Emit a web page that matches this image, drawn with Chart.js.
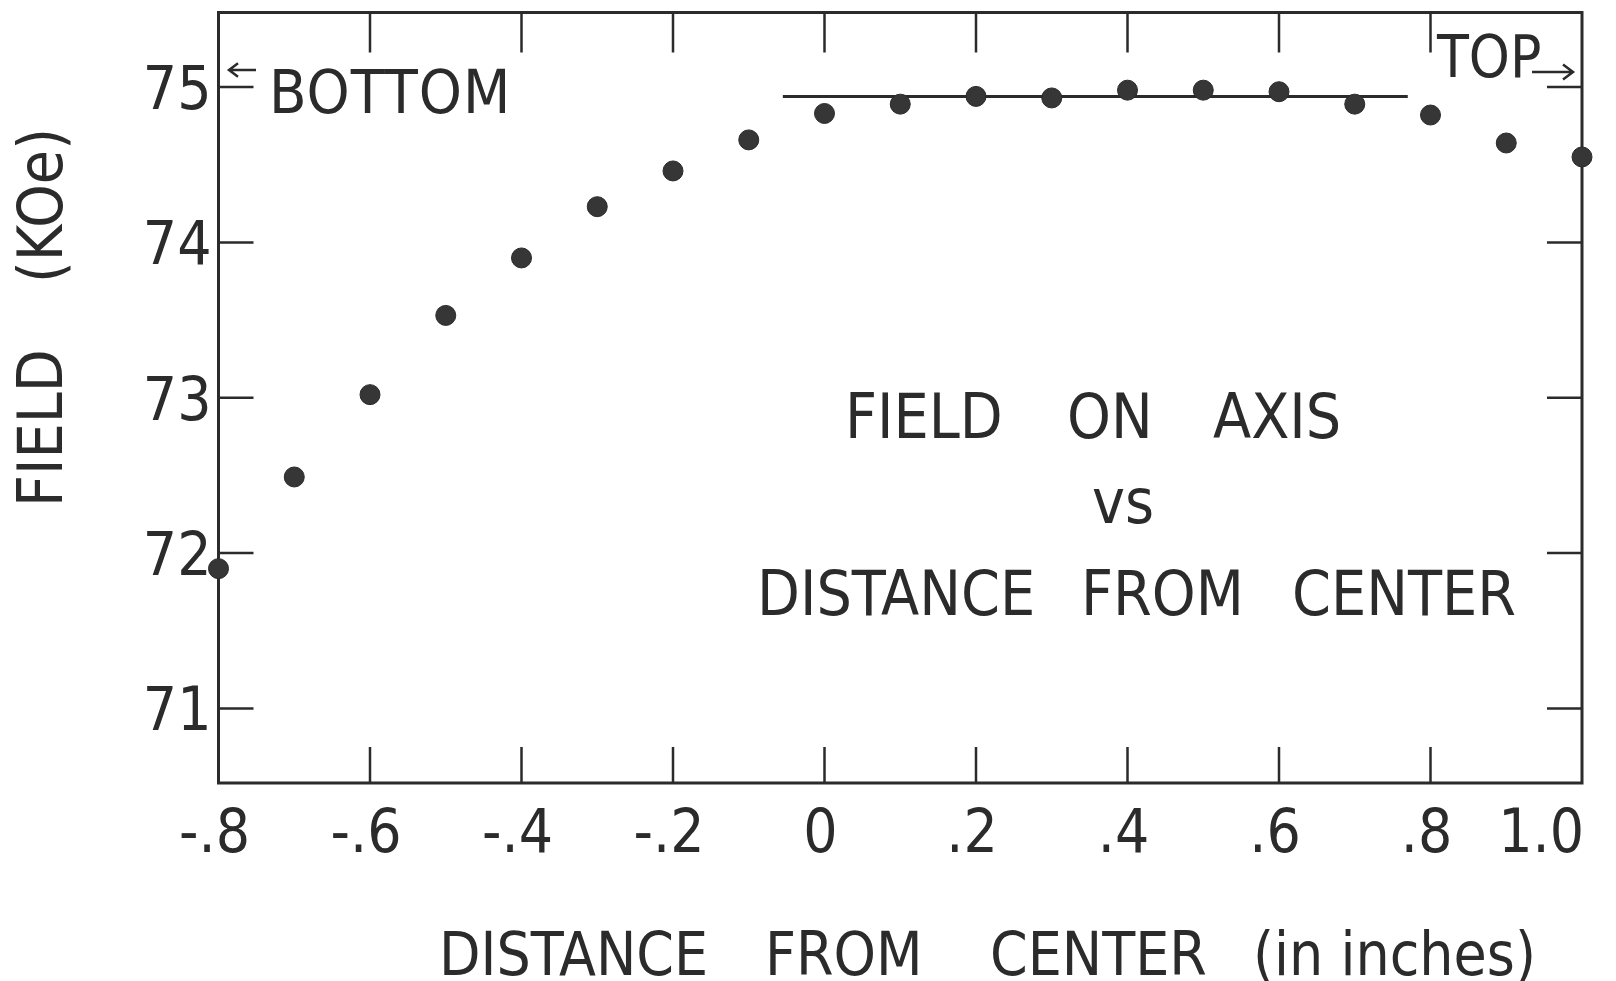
<!DOCTYPE html>
<html>
<head>
<meta charset="utf-8">
<title>Field on axis vs distance from center</title>
<script src="https://cdn.jsdelivr.net/npm/chart.js@4.4.1/dist/chart.umd.min.js"></script>
<style>
  html, body { margin: 0; padding: 0; background: #ffffff; }
  #wrap { width: 1616px; height: 981px; }
  canvas { display: block; }
</style>
</head>
<body>
<div id="wrap"><canvas id="chart" width="1616" height="981"></canvas></div>
<script>
// Measured field along the magnet axis (kOe) at each distance from center (inches)
const distance = [-0.8, -0.7, -0.6, -0.5, -0.4, -0.3, -0.2, -0.1, 0.0, 0.1,
                   0.2,  0.3,  0.4,  0.5,  0.6,  0.7,  0.8,  0.9, 1.0];
const field = [71.90, 72.49, 73.02, 73.53, 73.90, 74.23, 74.46, 74.66, 74.83, 74.89,
               74.94, 74.93, 74.98, 74.98, 74.97, 74.89, 74.82, 74.64, 74.55];

// Reference level drawn across the flat region
const plateauX = [-0.055, 0.77];
const plateauY = [74.94, 74.94];

// Axis ticks and their labels
const xTickValues = [-0.8, -0.6, -0.4, -0.2, 0, 0.2, 0.4, 0.6, 0.8, 1.0];
const xTickLabels = ['-.8', '-.6', '-.4', '-.2', '0', '.2', '.4', '.6', '.8', '1.0'];
const yTickValues = [71, 72, 73, 74, 75];
const yTickLabels = ['71', '72', '73', '74', '75'];

const INK = '#2b2b2b';
const FONT = '"DejaVu Sans Condensed", "DejaVu Sans", sans-serif';

// Draw words left-aligned at the given start positions
function drawWordsAt(ctx, words, starts, y) {
  ctx.textAlign = 'left';
  words.forEach((w, i) => ctx.fillText(w, starts[i], y));
}

function arrow(ctx, x1, y, x2, head) {
  const dir = Math.sign(x2 - x1);
  ctx.beginPath();
  ctx.moveTo(x1, y);
  ctx.lineTo(x2, y);
  ctx.moveTo(x2 - dir * head, y - head * 0.75);
  ctx.lineTo(x2, y);
  ctx.lineTo(x2 - dir * head, y + head * 0.75);
  ctx.stroke();
}

// Frame, inward ticks, tick labels and lettering
const frameAndText = {
  id: 'frameAndText',
  beforeDatasetsDraw(chart) {
    const { ctx, chartArea: a, scales } = chart;
    const xs = scales.x, ys = scales.y;
    ctx.save();
    ctx.strokeStyle = INK;
    ctx.lineWidth = 3;
    ctx.lineCap = 'butt';
    ctx.strokeRect(a.left, a.top, a.right - a.left, a.bottom - a.top);

    // inward ticks on all four sides
    ctx.lineWidth = 2.5;
    ctx.beginPath();
    xTickValues.forEach((v, i) => {
      if (i === 0 || i === xTickValues.length - 1) return;
      const px = xs.getPixelForValue(v);
      ctx.moveTo(px, a.bottom); ctx.lineTo(px, a.bottom - 36);
      ctx.moveTo(px, a.top); ctx.lineTo(px, a.top + 40);
    });
    yTickValues.forEach(v => {
      const py = ys.getPixelForValue(v);
      ctx.moveTo(a.left, py); ctx.lineTo(a.left + 35, py);
      ctx.moveTo(a.right, py); ctx.lineTo(a.right - 35, py);
    });
    ctx.stroke();
    ctx.restore();
  },
  afterDraw(chart) {
    const { ctx, chartArea: a, scales } = chart;
    const xs = scales.x, ys = scales.y;
    ctx.save();
    ctx.fillStyle = INK;
    ctx.strokeStyle = INK;
    ctx.textBaseline = 'alphabetic';

    // tick labels
    ctx.font = '60px ' + FONT;
    xTickValues.forEach((v, i) => {
      const px = xs.getPixelForValue(v);
      if (i === xTickValues.length - 1) {
        ctx.textAlign = 'right';
        ctx.fillText(xTickLabels[i], px + 2, a.bottom + 69);
      } else {
        ctx.textAlign = 'center';
        ctx.fillText(xTickLabels[i], px - 4, a.bottom + 69);
      }
    });
    ctx.textAlign = 'right';
    yTickValues.forEach((v, i) => {
      const py = ys.getPixelForValue(v);
      ctx.fillText(yTickLabels[i], a.left - 7, py + 22);
    });

    // x axis title
    ctx.font = '60px ' + FONT;
    drawWordsAt(ctx, ['DISTANCE', 'FROM', 'CENTER', '(in inches)'], [439, 765, 990, 1253], 975);

    // y axis title, reading upward
    ctx.save();
    ctx.translate(62, 507);
    ctx.rotate(-Math.PI / 2);
    ctx.font = '62px ' + FONT;
    ctx.textAlign = 'left';
    ctx.fillText('FIELD', 0, 0);
    ctx.fillText('(KOe)', 224, 0);
    ctx.restore();

    // in-plot lettering
    ctx.font = '62px ' + FONT;
    drawWordsAt(ctx, ['FIELD', 'ON', 'AXIS'], [845, 1067, 1213], 438);
    ctx.textAlign = 'center';
    ctx.fillText('vs', 1123, 523);
    drawWordsAt(ctx, ['DISTANCE', 'FROM', 'CENTER'], [757, 1081, 1292], 615);

    // end markers
    ctx.font = '61px ' + FONT;
    ctx.textAlign = 'left';
    ctx.letterSpacing = '1px';
    ctx.fillText('BOTTOM', 269, 113);
    ctx.letterSpacing = '0px';
    ctx.font = '58px ' + FONT;
    ctx.fillText('TOP', 1437, 77);

    ctx.lineWidth = 2.5;
    arrow(ctx, 256, 70, 229, 9);
    arrow(ctx, 1532, 72, 1573, 10);
    ctx.restore();
  }
};

new Chart(document.getElementById('chart'), {
  type: 'scatter',
  data: {
    datasets: [
      {
        label: 'Field on axis',
        data: distance.map((d, i) => ({ x: d, y: field[i] })),
        pointRadius: 10,
        pointHoverRadius: 10,
        pointBackgroundColor: '#363636',
        pointBorderColor: '#2a2a2a',
        pointBorderWidth: 1,
        showLine: false,
        clip: false
      },
      {
        label: 'Plateau level',
        data: plateauX.map((d, i) => ({ x: d, y: plateauY[i] })),
        showLine: true,
        borderColor: INK,
        borderWidth: 3,
        pointRadius: 0,
        fill: false,
        clip: false
      }
    ]
  },
  options: {
    responsive: false,
    animation: false,
    devicePixelRatio: 1,
    layout: { padding: { left: 218.5, right: 34, top: 12.5, bottom: 198 } },
    plugins: { legend: { display: false }, tooltip: { enabled: false } },
    scales: {
      x: { type: 'linear', min: -0.8, max: 1.0, display: false },
      y: { type: 'linear', min: 70.52, max: 75.48, display: false }
    }
  },
  plugins: [frameAndText]
});
</script>
</body>
</html>
